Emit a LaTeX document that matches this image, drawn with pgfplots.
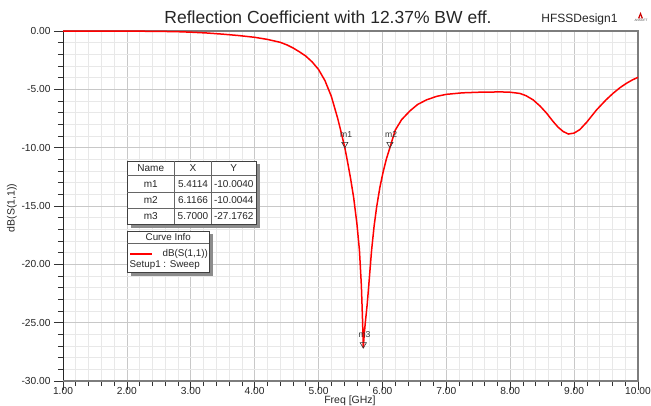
\documentclass[border=0pt]{standalone}
\usepackage{pgfplots}
\pgfplotsset{compat=1.18}
\usepackage{fontspec}
\setmainfont{Liberation Sans}
\definecolor{majgrid}{RGB}{200,200,200}
\definecolor{mingrid}{RGB}{232,232,232}
\definecolor{frame}{RGB}{125,125,125}
\definecolor{curvered}{RGB}{255,0,0}
\begin{document}
\begin{tikzpicture}[x=1pt,y=1pt]
\useasboundingbox (0,0) rectangle (651,405);
\begin{axis}[
  at={(63pt,24pt)}, anchor=south west,
  scale only axis, width=575pt, height=350pt,
  xmin=1, xmax=10, ymin=-30, ymax=0,
  xtick={1,2,...,10}, ytick={-30,-25,...,0},
  minor x tick num=4, minor y tick num=4,
  grid=both,
  major grid style={color=majgrid, line width=0.7pt},
  minor grid style={color=mingrid, line width=0.7pt},
  tick align=outside,
  major tick length=9pt, minor tick length=5pt,
  tick style={color=black!80, line width=0.6pt},
  axis line style={color=black!85, line width=0.8pt},
  xtick pos=bottom, ytick pos=left,
  /pgf/number format/.cd, fixed, fixed zerofill, precision=2, assume math mode=true, 
  /pgfplots/.cd,
  ticklabel style={font=\fontsize{10.2}{12}\selectfont, color=black!85},
  xticklabel style={yshift=5.7pt},
  clip=false,
]
\draw[frame, line width=1.8pt] (rel axis cs:0,0) -- (rel axis cs:1,0) -- (rel axis cs:1,1) -- (rel axis cs:0,1);
\addplot[curvered, line width=1.5pt] coordinates {
(1.0,0) (1.5,-0.005) (2.0,-0.01) (2.5,-0.03) (2.8,-0.06) (3.0,-0.10) (3.25,-0.17)
(3.5,-0.27) (3.75,-0.39) (4.0,-0.54) (4.2,-0.72) (4.4,-0.97) (4.5,-1.18) (4.6,-1.45)
(4.7,-1.78) (4.8,-2.15) (4.9,-2.65) (5.0,-3.3) (5.1,-4.25) (5.2,-5.6) (5.3,-7.5)
(5.35,-8.6) (5.4114,-10.004) (5.45,-11.1) (5.5,-12.6) (5.55,-14.3) (5.6,-16.5)
(5.64,-18.8) (5.67,-21.8) (5.69,-25.0) (5.70,-27.18) (5.715,-26.0) (5.73,-25.1)
(5.76,-23.5) (5.78,-22.2) (5.83,-18.8) (5.87,-16.7) (5.91,-15.06) (5.96,-13.4)
(6.01,-12.1) (6.06,-11.0) (6.1166,-10.004) (6.2,-8.5) (6.3,-7.6) (6.43,-6.85)
(6.55,-6.3) (6.69,-5.9) (6.85,-5.6) (7.0,-5.43) (7.25,-5.3) (7.5,-5.25) (7.85,-5.22)
(8.0,-5.25) (8.15,-5.35) (8.25,-5.55) (8.36,-5.91) (8.47,-6.45) (8.57,-7.05)
(8.67,-7.75) (8.75,-8.25) (8.83,-8.62) (8.91,-8.83) (9.0,-8.75) (9.09,-8.45)
(9.2,-7.8) (9.35,-6.77) (9.5,-5.9) (9.61,-5.34) (9.72,-4.85) (9.82,-4.48)
(9.91,-4.2) (10.0,-3.97)
};
\addplot[only marks, mark=triangle, mark size=3.6pt,
  mark options={yshift=3.6pt, rotate=180, draw=black!80, fill=white, line width=0.6pt},
  point meta=explicit symbolic, nodes near coords,
  every node near coord/.append style={anchor=south west, xshift=-5pt, yshift=6.5pt,
    inner sep=0pt, font=\fontsize{8.6}{9}\selectfont, color=black!80}]
  coordinates {(5.4114,-10.0040) [m1] (6.1166,-10.0044) [m2] (5.7000,-27.1762) [m3]};
\end{axis}
% annotations in pixel coordinates (y down)
\begin{scope}[shift={(0,405)}, yscale=-1]
  \node[font=\fontsize{17.5}{20}\selectfont, color=black!85] at (328,17) {Reflection Coefficient with 12.37\% BW eff.};
  \node[anchor=base east, font=\fontsize{12}{14}\selectfont, color=black!85] at (621,22.5) {HFSSDesign1};
  \fill[red!80!black] (638,18.3) -- (640.5,12) -- (643,18.3) -- cycle;
  \fill[white] (639.6,18.3) -- (640.5,15.5) -- (641.4,18.3) -- cycle;
  \node[font=\fontsize{3.2}{3}\selectfont, inner sep=0pt, color=black!70] at (641,20.5) {ANSOFT};
  \node[rotate=90, font=\fontsize{10.5}{12}\selectfont, color=black!85] at (12,208) {dB(S(1,1))};
  \node[anchor=base, font=\fontsize{10.5}{12}\selectfont, color=black!85] at (350,403.5) {Freq [GHz]};
  % marker table
  \fill[black!45] (130.5,164) rectangle (259.5,227.5);
  \filldraw[fill=white, draw=black!75, line width=0.7pt] (127.3,161) rectangle (256,224);
  \draw[black!60, line width=0.6pt] (127.3,175.7) -- (256,175.7) (127.3,192.3) -- (256,192.3)
     (127.3,208.3) -- (256,208.3) (174.3,161) -- (174.3,224) (211.7,161) -- (211.7,224);
  \begin{scope}[every node/.style={font=\fontsize{10}{11}\selectfont, color=black!85, inner sep=0pt}]
    \node at (150.8,168.5) {Name}; \node at (193,168.5) {X}; \node at (233.8,168.5) {Y};
    \node at (150.8,184.3) {m1}; \node at (193,184.3) {5.4114}; \node at (233.8,184.3) {-10.0040};
    \node at (150.8,200.5) {m2}; \node at (193,200.5) {6.1166}; \node at (233.8,200.5) {-10.0044};
    \node at (150.8,216.4) {m3}; \node at (193,216.4) {5.7000}; \node at (233.8,216.4) {-27.1762};
  \end{scope}
  % curve info
  \fill[black!45] (130.5,234) rectangle (212.5,275.5);
  \filldraw[fill=white, draw=black!75, line width=0.7pt] (127.3,231) rectangle (209.3,272.3);
  \draw[black!60, line width=0.6pt] (127.3,243.3) -- (209.3,243.3);
  \fill[curvered] (130,252.9) rectangle (151.7,254.6);
  \begin{scope}[every node/.style={font=\fontsize{9.8}{11}\selectfont, color=black!85, inner sep=0pt}]
    \node at (168.3,237.4) {Curve Info};
    \node[anchor=east] at (208,253.5) {dB(S(1,1))};
    \node[anchor=west] at (129.5,265.5) {Setup1 : Sweep};
  \end{scope}
\end{scope}
\end{tikzpicture}
\end{document}
